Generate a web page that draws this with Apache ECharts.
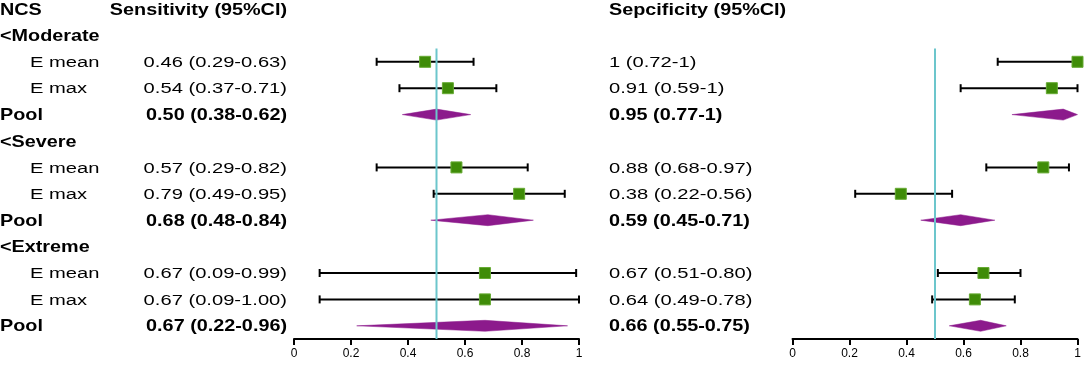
<!DOCTYPE html>
<html><head><meta charset="utf-8">
<script src="https://cdn.jsdelivr.net/npm/echarts@6/dist/echarts.min.js"></script>
<style>html,body{margin:0;padding:0;background:#fff}#c{width:1084px;height:366px}</style>
</head><body><div id="c"></div>
<script>
// ---- data ----
const groups = ['<Moderate', '<Severe', '<Extreme'];
const studies = ['E mean', 'E max'];
const sensEst = [0.46, 0.54, 0.50, 0.57, 0.79, 0.68, 0.67, 0.67, 0.67];
const sensLo  = [0.29, 0.37, 0.38, 0.29, 0.49, 0.48, 0.09, 0.09, 0.22];
const sensHi  = [0.63, 0.71, 0.62, 0.82, 0.95, 0.84, 0.99, 1.00, 0.96];
const sensText = ['0.46 (0.29-0.63)', '0.54 (0.37-0.71)', '0.50 (0.38-0.62)',
                  '0.57 (0.29-0.82)', '0.79 (0.49-0.95)', '0.68 (0.48-0.84)',
                  '0.67 (0.09-0.99)', '0.67 (0.09-1.00)', '0.67 (0.22-0.96)'];
const specEst = [1.00, 0.91, 0.95, 0.88, 0.38, 0.59, 0.67, 0.64, 0.66];
const specLo  = [0.72, 0.59, 0.77, 0.68, 0.22, 0.45, 0.51, 0.49, 0.55];
const specHi  = [1.00, 1.00, 1.00, 0.97, 0.56, 0.71, 0.80, 0.78, 0.75];
const specText = ['1 (0.72-1)', '0.91 (0.59-1)', '0.95 (0.77-1)',
                  '0.88 (0.68-0.97)', '0.38 (0.22-0.56)', '0.59 (0.45-0.71)',
                  '0.67 (0.51-0.80)', '0.64 (0.49-0.78)', '0.66 (0.55-0.75)'];
const headers = ['NCS', 'Sensitivity (95%CI)', 'Sepcificity (95%CI)'];
const poolLabel = 'Pool';
const refValue = 0.5;
const tickValues = [0, 0.2, 0.4, 0.6, 0.8, 1];

// ---- build rows ----
const FONT = "'Liberation Sans', Arial, sans-serif";
const texts = [];   // {row, col, text, bold}
const studyRows = [];
const poolRows = [];
texts.push({row: 0, col: 'name', text: headers[0], bold: true});
texts.push({row: 0, col: 'sens', text: headers[1], bold: true});
texts.push({row: 0, col: 'spec', text: headers[2], bold: true});
let r = 1;
groups.forEach((g, gi) => {
  texts.push({row: r, col: 'name', text: g, bold: true});
  r++;
  studies.forEach((s, si) => {
    const k = gi * 3 + si;
    texts.push({row: r, col: 'sub', text: s, bold: false});
    texts.push({row: r, col: 'sens', text: sensText[k], bold: false});
    texts.push({row: r, col: 'spec', text: specText[k], bold: false});
    studyRows.push({row: r, k});
    r++;
  });
  const k = gi * 3 + 2;
  texts.push({row: r, col: 'name', text: poolLabel, bold: true});
  texts.push({row: r, col: 'sens', text: sensText[k], bold: true});
  texts.push({row: r, col: 'spec', text: specText[k], bold: true});
  poolRows.push({row: r, k});
  r++;
});
const lastRow = r - 1;

const colX = {name: 0, sub: 30, sens: 287, spec: 609};
const colAlign = {name: 'left', sub: 'left', sens: 'right', spec: 'left'};

const chart = echarts.init(document.getElementById('c'), null, {renderer: 'canvas'});

function xAxisDef(gi) {
  return {
    gridIndex: gi, type: 'value', min: 0, max: 1, interval: 0.2, position: 'bottom',
    axisLine: {show: true, onZero: false, lineStyle: {color: '#000', width: 2}},
    axisTick: {show: true, length: 6, lineStyle: {color: '#000', width: 2}},
    axisLabel: {color: '#000', fontSize: 12, fontFamily: FONT, margin: 9,
      formatter: v => String(+v.toFixed(1))},
    splitLine: {show: false}
  };
}
function yAxisDef(gi) {
  return {gridIndex: gi, type: 'value', min: 0, max: lastRow + 0.5, inverse: true, show: false,
    axisLine: {onZero: false}};
}

function errSeries(gi, est, lo, hi) {
  return {
    type: 'custom', xAxisIndex: gi, yAxisIndex: gi, z: 2,
    data: studyRows.map(o => [lo[o.k], hi[o.k], o.row]),
    renderItem: (params, api) => {
      const p1 = api.coord([api.value(0), api.value(2)]);
      const p2 = api.coord([api.value(1), api.value(2)]);
      const st = {stroke: '#000', lineWidth: 2};
      return {type: 'group', children: [
        {type: 'line', shape: {x1: p1[0], y1: p1[1], x2: p2[0], y2: p2[1]}, style: st},
        {type: 'line', shape: {x1: p1[0], y1: p1[1] - 4, x2: p1[0], y2: p1[1] + 4}, style: st},
        {type: 'line', shape: {x1: p2[0], y1: p2[1] - 4, x2: p2[0], y2: p2[1] + 4}, style: st}
      ]};
    }
  };
}
function pointSeries(gi, est) {
  return {
    type: 'scatter', xAxisIndex: gi, yAxisIndex: gi, z: 4, symbol: 'rect', symbolSize: 11,
    itemStyle: {color: '#3f8c08', borderColor: '#66aa33', borderWidth: 1, opacity: 1},
    data: studyRows.map(o => [est[o.k], o.row]),
    silent: true
  };
}
function diamondSeries(gi, est, lo, hi) {
  return {
    type: 'custom', xAxisIndex: gi, yAxisIndex: gi, z: 3,
    data: poolRows.map(o => [lo[o.k], est[o.k], hi[o.k], o.row]),
    renderItem: (params, api) => {
      const y = api.value(3);
      const a = api.coord([api.value(0), y]);
      const b = api.coord([api.value(1), y]);
      const c = api.coord([api.value(2), y]);
      const h = 5.5;
      return {type: 'polygon',
        shape: {points: [[a[0], a[1]], [b[0], b[1] - h], [c[0], c[1]], [b[0], b[1] + h]]},
        style: {fill: '#8c1a8c', stroke: '#8c1a8c', lineWidth: 0.5}};
    }
  };
}
function refSeries(gi) {
  return {
    type: 'line', xAxisIndex: gi, yAxisIndex: gi, z: 5, symbol: 'none', silent: true,
    lineStyle: {color: '#6cc6cc', width: 2},
    data: [[refValue, 1.5], [refValue, lastRow + 0.5]]
  };
}
const textSeries = {
  type: 'custom', xAxisIndex: 0, yAxisIndex: 0, z: 6, clip: false, silent: true,
  data: texts.map(t => [0, t.row]),
  renderItem: (params, api) => {
    const t = texts[params.dataIndex];
    const y = api.coord([0, t.row])[1] + 1;
    return {
      type: 'text', x: colX[t.col], y: y,
      scaleX: t.bold ? 1.2 : 1.3,
      style: {
        text: t.text, fill: '#000',
        font: (t.bold ? 'bold ' : '') + (t.bold ? '16.5px ' : '15.5px ') + FONT,
        align: colAlign[t.col], verticalAlign: 'middle'
      }
    };
  }
};

chart.setOption({
  animation: false,
  backgroundColor: '#fff',
  grid: [
    {left: 294, width: 285, top: 9, height: 330},
    {left: 792.5, width: 285, top: 9, height: 330}
  ],
  xAxis: [xAxisDef(0), xAxisDef(1)],
  yAxis: [yAxisDef(0), yAxisDef(1)],
  series: [
    errSeries(0, sensEst, sensLo, sensHi),
    errSeries(1, specEst, specLo, specHi),
    pointSeries(0, sensEst),
    pointSeries(1, specEst),
    diamondSeries(0, sensEst, sensLo, sensHi),
    diamondSeries(1, specEst, specLo, specHi),
    refSeries(0), refSeries(1),
    textSeries
  ]
});
</script></body></html>
